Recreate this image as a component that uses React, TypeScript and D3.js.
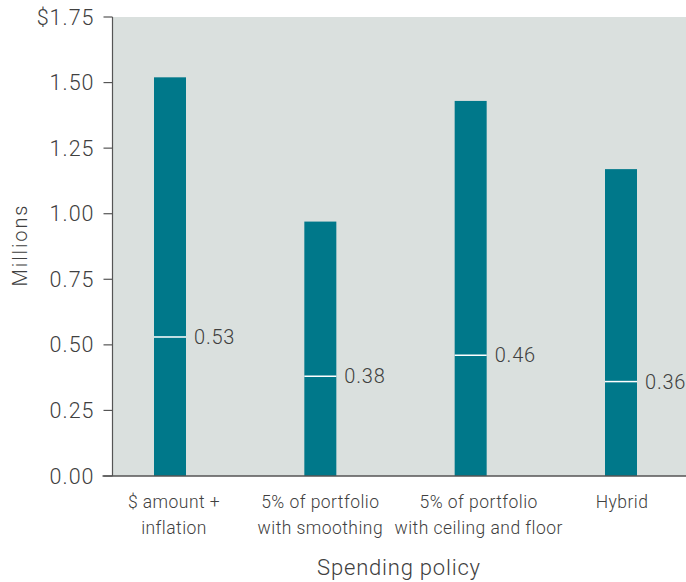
import React from "react";
import * as d3 from "d3";

const categories = [
  ["$ amount +", "inflation"],
  ["5% of portfolio", "with smoothing"],
  ["5% of portfolio", "with ceiling and floor"],
  ["Hybrid"],
];
const topValues = [1.52, 0.97, 1.43, 1.17];
const medianValues = [0.53, 0.38, 0.46, 0.36];
const medianLabels = ["0.53", "0.38", "0.46", "0.36"];
const yTicks = [0, 0.25, 0.5, 0.75, 1.0, 1.25, 1.5, 1.75];

export default function App() {
  const W = 686, H = 582;
  const left = 112.5, top = 17, bottom = 476, right = 686;
  const y = d3.scaleLinear().domain([0, 1.75]).range([bottom, top]);
  const x = d3.scalePoint<number>().domain(d3.range(categories.length)).range([170, 621]);
  const bw = 32;
  const labelShift = [4, 0, 8, 1];
  const font = "Roboto, 'Liberation Sans', Arial, sans-serif";
  const txt = "#404040";
  return (
    <svg width={W} height={H} style={{ position: "absolute", left: 0, top: 0 }} fontFamily={font} fontWeight={300}>
      <rect x={left} y={top} width={right - left} height={bottom - top} fill="#dae0de" />
      {topValues.map((v, i) => (
        <rect key={i} x={x(i)! - bw / 2} y={y(v)} width={bw} height={bottom - y(v)} fill="#00788a" />
      ))}
      {medianValues.map((v, i) => (
        <g key={i}>
          <line x1={x(i)! - bw / 2} x2={x(i)! + bw / 2} y1={y(v)} y2={y(v)} stroke="#ffffff" strokeWidth={1.5} />
          <text x={x(i)! + bw / 2 + 8} y={y(v)} dy="0.35em" fontSize={20} letterSpacing={0.8} fill={txt}>{medianLabels[i]}</text>
        </g>
      ))}
      <line x1={left} x2={left} y1={top} y2={bottom} stroke="#555" strokeWidth={1.2} />
      <line x1={left - 10} x2={right} y1={bottom} y2={bottom} stroke="#555" strokeWidth={1.5} />
      {yTicks.map((t) => (
        <g key={t}>
          <line x1={left - 9} x2={left} y1={y(t)} y2={y(t)} stroke="#555" strokeWidth={1.2} />
          <text x={left - 18} y={y(t)} dy="0.35em" textAnchor="end" fontSize={21.5} letterSpacing={1} fill={txt}>
            {(t === 1.75 ? "$" : "") + t.toFixed(2)}
          </text>
        </g>
      ))}
      {categories.map((lines, i) => (
        <text key={i} x={x(i)! + labelShift[i]} y={502} dy="0.35em" textAnchor="middle" fontSize={17.5} letterSpacing={0.45} fill={txt}>
          {lines.map((l, j) => (
            <tspan key={j} x={x(i)! + labelShift[i]} dy={j === 0 ? "0.35em" : 26}>{l}</tspan>
          ))}
        </text>
      ))}
      <text x={399} y={567} dy="0.35em" textAnchor="middle" fontSize={22} letterSpacing={0.8} fill={txt}>Spending policy</text>
      <text transform={`translate(20,245) rotate(-90)`} dy="0.35em" textAnchor="middle" fontSize={20} letterSpacing={1.9} fill={txt}>Millions</text>
    </svg>
  );
}
